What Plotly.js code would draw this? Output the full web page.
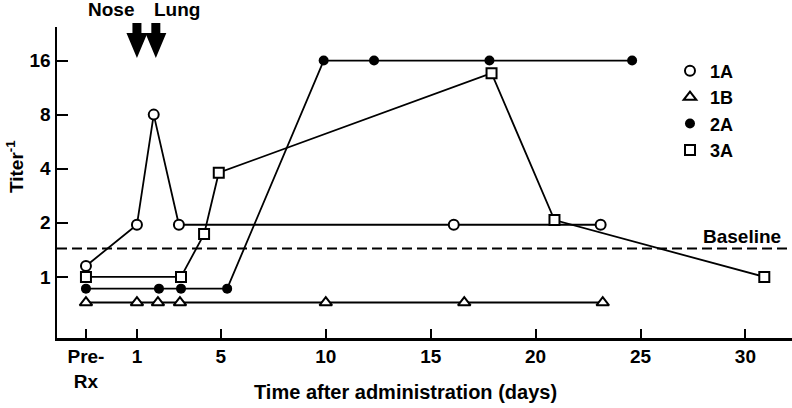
<!DOCTYPE html>
<html>
<head>
<meta charset="utf-8">
<script src="https://cdn.plot.ly/plotly-3.0.1.min.js"></script>
<style>html,body{margin:0;padding:0;background:#fff;}#chart{width:792px;height:408px;}</style>
</head>
<body>
<div id="chart"></div>
<script>
// ---- data ----
var PRE = -1.43;               // position of the "Pre-Rx" sample on the day axis
var BASELINE = 1.44;           // baseline titer (dashed line)

var x1A = [PRE, 1, 1.8, 3, 16.1, 23.1];
var y1A = [1.15, 1.95, 8, 1.95, 1.95, 1.95];

var x1B = [PRE, 1, 2, 3.05, 10, 16.6, 23.2];
var y1B = [0.72, 0.72, 0.72, 0.72, 0.72, 0.72, 0.72];

var x2A = [PRE, 2.05, 3.1, 5.3, 9.9, 12.3, 17.8, 24.6];
var y2A = [0.86, 0.86, 0.86, 0.86, 16, 16, 16, 16];

var x3A = [PRE, 3.1, 4.2, 4.9, 17.9, 20.9, 30.9];
var y3A = [1.0, 1.0, 1.73, 3.8, 13.6, 2.07, 1.0];

var xTickVals = [PRE, 1, 5, 10, 15, 20, 25, 30];
var xTickText = ['Pre-<br>Rx', '1', '5', '10', '15', '20', '25', '30'];
var yTickVals = [1, 2, 4, 8, 16];
var yTickText = ['1', '2', '4', '8', '16'];

var seriesNames = ['1A', '1B', '2A', '3A'];
var NOSE_DAY = 1, LUNG_DAY = 1.9;

// ---- styling ----
var FONT = 'Liberation Sans, Arial, Helvetica, sans-serif';
var lineStyle = {color: '#000', width: 1.8};
var markers = {
  '1A': {symbol: 'circle', size: 10, color: '#fff', line: {color: '#000', width: 2}},
  '1B': {symbol: 'triangle-up', size: 11, color: '#fff', line: {color: '#000', width: 2}},
  '2A': {symbol: 'circle', size: 10, color: '#000', line: {color: '#000', width: 0}},
  '3A': {symbol: 'square', size: 10, color: '#fff', line: {color: '#000', width: 2}}
};
var xs = {'1A': x1A, '1B': x1B, '2A': x2A, '3A': x3A};
var ys = {'1A': y1A, '1B': y1B, '2A': y2A, '3A': y3A};

var traces = [];
seriesNames.forEach(function (n) {
  traces.push({x: xs[n], y: ys[n], mode: 'lines+markers', name: n, showlegend: false,
               legendgroup: n, line: lineStyle, marker: markers[n], cliponaxis: false});
});
// legend entries showing only the symbol
seriesNames.forEach(function (n) {
  traces.push({x: [null], y: [null], mode: 'markers', name: n, legendgroup: n,
               showlegend: true, marker: markers[n]});
});

// thick down-arrow outline in pixels, tip at the anchor
var ARROW_PATH = 'M0,0 L-10.5,25 L-4.5,25 L-4.5,35 L4.5,35 L4.5,25 L10.5,25 Z';
function arrowShape(day) {
  return {type: 'path', xref: 'x', yref: 'paper', xsizemode: 'pixel', ysizemode: 'pixel',
          xanchor: day, yanchor: 0.9003, path: ARROW_PATH,
          fillcolor: '#000', line: {color: '#000', width: 0}};
}

var layout = {
  width: 792, height: 408,
  margin: {l: 57, r: 0, t: 27, b: 70},
  paper_bgcolor: '#fff', plot_bgcolor: '#fff',
  font: {family: FONT, size: 19, color: '#000', weight: 'bold'},
  showlegend: true,
  legend: {x: 0.834, y: 0.918, xanchor: 'left', yanchor: 'top', bgcolor: 'rgba(0,0,0,0)',
           font: {family: FONT, size: 18, color: '#000', weight: 'bold'}, tracegroupgap: 0},
  xaxis: {
    range: [-2.81, 32.22], showgrid: false, zeroline: false,
    showline: true, linecolor: '#000', linewidth: 2.5,
    ticks: 'inside', ticklen: 9, tickwidth: 2, tickcolor: '#000',
    tickmode: 'array', tickvals: xTickVals, ticktext: xTickText,
    tickfont: {family: FONT, size: 19, color: '#000', weight: 'bold'}
  },
  yaxis: {
    type: 'log', range: [Math.log10(Math.pow(2, -1.13)), Math.log10(Math.pow(2, 4.62))],
    showgrid: false, zeroline: false,
    showline: true, linecolor: '#000', linewidth: 2.5,
    ticks: 'inside', ticklen: 11, tickwidth: 2, tickcolor: '#000',
    tickmode: 'array', tickvals: yTickVals, ticktext: yTickText,
    tickfont: {family: FONT, size: 19, color: '#000', weight: 'bold'}
  },
  shapes: [{
    type: 'line', xref: 'paper', x0: 0, x1: 1, yref: 'y', y0: BASELINE, y1: BASELINE,
    line: {color: '#000', width: 2, dash: '10px,5px'}, layer: 'below'
  }, arrowShape(NOSE_DAY), arrowShape(LUNG_DAY)],
  annotations: [
    {text: 'Time after administration (days)', xref: 'paper', yref: 'paper',
     x: 0.4735, y: -0.1736, xanchor: 'center', yanchor: 'middle', showarrow: false,
     font: {family: FONT, size: 20, color: '#000', weight: 'bold'}},
    {text: 'Titer<sup>-1</sup>', xref: 'paper', yref: 'paper', textangle: -90,
     x: -0.057, y: 0.55, xanchor: 'center', yanchor: 'middle', showarrow: false,
     font: {family: FONT, size: 19, color: '#000', weight: 'bold'}},
    {text: 'Baseline', xref: 'paper', yref: 'y', x: 0.988, y: Math.log10(BASELINE),
     xanchor: 'right', yanchor: 'bottom', yshift: -1, showarrow: false,
     font: {family: FONT, size: 19, color: '#000', weight: 'bold'}},
    {text: 'Nose', xref: 'x', yref: 'paper', x: NOSE_DAY, xshift: -26, y: 1.0547,
     xanchor: 'center', yanchor: 'middle', showarrow: false,
     font: {family: FONT, size: 19, color: '#000', weight: 'bold'}},
    {text: 'Lung', xref: 'x', yref: 'paper', x: LUNG_DAY, xshift: 21, y: 1.0547,
     xanchor: 'center', yanchor: 'middle', showarrow: false,
     font: {family: FONT, size: 19, color: '#000', weight: 'bold'}}
  ]
};

Plotly.newPlot('chart', traces, layout, {staticPlot: true, displayModeBar: false});
</script>
</body>
</html>
